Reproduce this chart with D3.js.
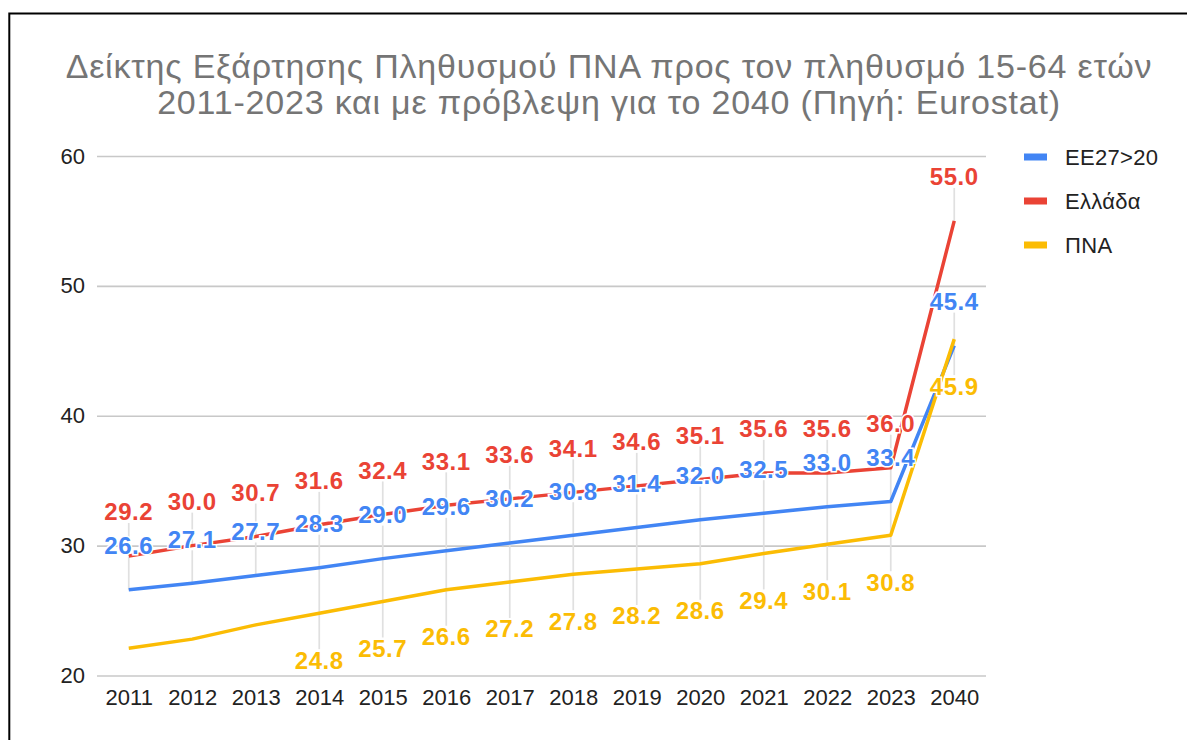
<!DOCTYPE html>
<html>
<head>
<meta charset="utf-8">
<script src="https://cdn.jsdelivr.net/npm/d3@7"></script>
<style>
  body { margin: 0; background: #fff; }
  text { font-family: "Liberation Sans", Arial, sans-serif; }
</style>
</head>
<body>
<div id="chart"></div>
<script>
// data
const years = ["2011","2012","2013","2014","2015","2016","2017","2018","2019","2020","2021","2022","2023","2040"];
const eu27 = [26.6, 27.1, 27.7, 28.3, 29.0, 29.6, 30.2, 30.8, 31.4, 32.0, 32.5, 33.0, 33.4, 45.4];
const greece = [29.2, 30.0, 30.7, 31.6, 32.4, 33.1, 33.6, 34.1, 34.6, 35.1, 35.6, 35.6, 36.0, 55.0];
const pna = [22.1, 22.8, 23.9, 24.8, 25.7, 26.6, 27.2, 27.8, 28.2, 28.6, 29.4, 30.1, 30.8, 45.9];
const seriesNames = ["ΕΕ27>20", "Ελλάδα", "ΠΝΑ"];
const yTicks = [20, 30, 40, 50, 60];
const titleLines = [
  "Δείκτης Εξάρτησης Πληθυσμού ΠΝΑ προς τον πληθυσμό 15-64 ετών",
  "2011-2023 και με πρόβλεψη για το 2040 (Πηγή: Eurostat)"
];

const series = [
  {name: seriesNames[0], values: eu27, color: "#4285f4", pos: "above"},
  {name: seriesNames[1], values: greece, color: "#ea4335", pos: "above"},
  {name: seriesNames[2], values: pna, color: "#fbbc04", pos: "below"}
];

const W = 1187, H = 740;
const margin = {top: 156, left: 97, right: 201, bottom: 64.5};
const width = W - margin.left - margin.right,
      height = H - margin.top - margin.bottom;

const svg = d3.select("#chart").append("svg")
    .attr("width", W)
    .attr("height", H);

// frame lines (top + left)
svg.append("path")
    .attr("d", "M9.3,740V13.5H1187")
    .attr("fill", "none")
    .attr("stroke", "#000")
    .attr("stroke-width", 2);

svg.append("g").selectAll("text")
  .data(titleLines)
  .enter().append("text")
    .attr("x", 609)
    .attr("y", (d, i) => 78 + i * 36)
    .attr("text-anchor", "middle")
    .attr("font-size", 34)
    .attr("letter-spacing", 0.8)
    .attr("fill", "#757575")
    .text(d => d);

const g = svg.append("g")
    .attr("transform", "translate(" + margin.left + "," + margin.top + ")");

const x = d3.scalePoint()
    .domain(years)
    .range([0, width])
    .padding(0.5);

const y = d3.scaleLinear()
    .domain([20, 60])
    .range([height, 0]);

// y axis + gridlines
const yAxis = g.append("g")
    .call(d3.axisLeft(y).tickValues(yTicks).tickSize(-width).tickPadding(12));
yAxis.select(".domain").remove();
yAxis.selectAll(".tick line").attr("stroke", "#c8c8c8").attr("stroke-width", 1.7);
yAxis.selectAll(".tick text")
    .attr("font-size", 22)
    .attr("fill", "#222")
    .attr("font-family", "'Liberation Sans', Arial, sans-serif");

// x axis
const xAxis = g.append("g")
    .attr("transform", "translate(0," + height + ")")
    .call(d3.axisBottom(x).tickSize(0).tickPadding(14));
xAxis.select(".domain").remove();
xAxis.selectAll(".tick text")
    .attr("font-size", 22)
    .attr("fill", "#222")
    .attr("font-family", "'Liberation Sans', Arial, sans-serif");

// data labels: position + visibility
const labelFont = 24, labelOff = {above: -44, below: 47};
const labels = [];
series.forEach(s => {
  s.values.forEach((v, i) => {
    const cy = y(v) + labelOff[s.pos];
    if (cy + 9 > height) return; // hidden when it runs past the plot bottom
    labels.push({s: s, i: i, v: v, cy: cy});
  });
});

// leader lines
const leaders = labels.map(l => {
  const py = y(l.v);
  if (l.s.pos === "above") return {x: x(years[l.i]), y1: l.cy + 11, y2: py};
  const others = series.filter(s => s !== l.s).map(s => y(s.values[l.i]));
  return {x: x(years[l.i]), y1: Math.min(py, d3.max(others)), y2: l.cy - 11};
});
g.append("g").selectAll("line")
  .data(leaders)
  .enter().append("line")
    .attr("x1", d => d.x).attr("x2", d => d.x)
    .attr("y1", d => d.y1).attr("y2", d => d.y2)
    .attr("stroke", "#e0e0e0")
    .attr("stroke-width", 1.7);

// lines
const line = d3.line()
    .x((d, i) => x(years[i]))
    .y(d => y(d));

g.append("g").selectAll("path")
  .data(series)
  .enter().append("path")
    .attr("d", d => line(d.values))
    .attr("fill", "none")
    .attr("stroke", d => d.color)
    .attr("stroke-width", 3.5)
    .attr("stroke-linejoin", "round");

g.append("g").selectAll("text")
  .data(labels)
  .enter().append("text")
    .attr("x", d => x(years[d.i]))
    .attr("y", d => d.cy)
    .attr("dy", "0.35em")
    .attr("text-anchor", "middle")
    .attr("font-family", "Roboto, sans-serif")
    .attr("font-weight", "bold")
    .attr("font-size", labelFont)
    .attr("letter-spacing", 0.6)
    .attr("fill", d => d.s.color)
    .attr("stroke", "#fff")
    .attr("stroke-width", 3)
    .attr("paint-order", "stroke")
    .text(d => d.v.toFixed(1));

// legend
const legend = svg.append("g")
    .attr("transform", "translate(1024,157)");
const li = legend.selectAll("g")
  .data(series)
  .enter().append("g")
    .attr("transform", (d, i) => "translate(0," + i * 44 + ")");
li.append("rect")
    .attr("x", 0).attr("y", -3.5)
    .attr("width", 23).attr("height", 7)
    .attr("fill", d => d.color);
li.append("text")
    .attr("x", 41)
    .attr("dy", "0.35em")
    .attr("font-size", 22)
    .attr("letter-spacing", 0.3)
    .attr("fill", "#222")
    .text(d => d.name);
</script>
</body>
</html>
